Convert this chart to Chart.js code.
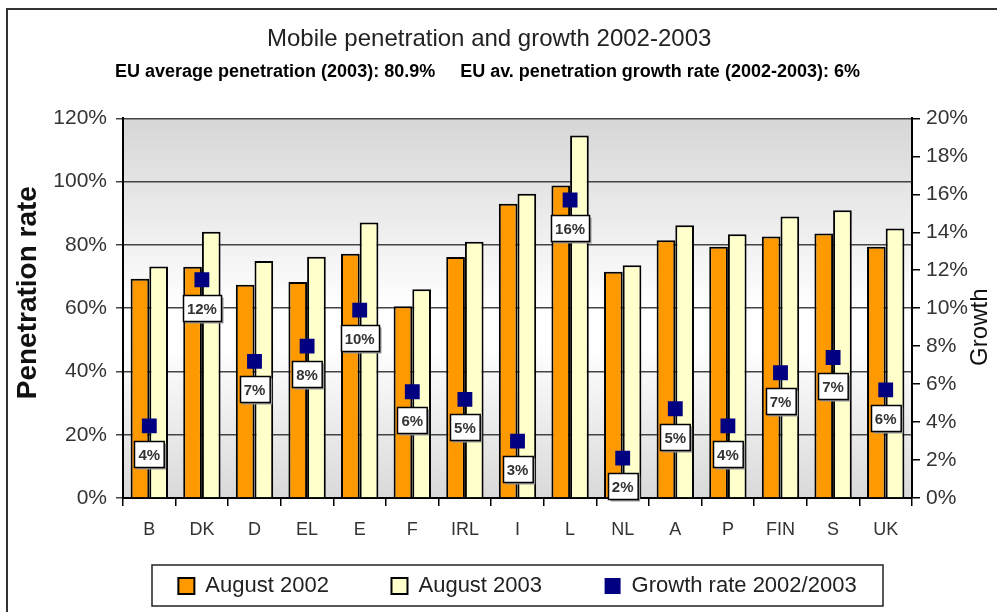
<!DOCTYPE html>
<html>
<head>
<meta charset="utf-8">
<title>Mobile penetration and growth 2002-2003</title>
<script src="https://cdn.jsdelivr.net/npm/chart.js@4.4.0/dist/chart.umd.min.js"></script>
<style>
    html, body { margin: 0; padding: 0; background: #fff; }
    #wrap { width: 997px; height: 612px; position: relative; }
</style>
</head>
<body>
<div id="wrap"><canvas id="penetrationChart" width="997" height="612"></canvas></div>
<script>
// Chart data
const countries = ['B', 'DK', 'D', 'EL', 'E', 'F', 'IRL', 'I', 'L', 'NL', 'A', 'P', 'FIN', 'S', 'UK'];
const august2002 = [69.3, 73.1, 67.4, 68.3, 77.2, 60.6, 76.2, 93.0, 98.8, 71.5, 81.5, 79.4, 82.7, 83.6, 79.4];
const august2003 = [73.2, 84.2, 74.9, 76.3, 87.1, 66.0, 81.0, 96.2, 114.6, 73.6, 86.2, 83.4, 89.0, 91.0, 85.2];
const growthRate = [3.8, 11.5, 7.2, 8.0, 9.9, 5.6, 5.2, 3.0, 15.7, 2.1, 4.7, 3.8, 6.6, 7.4, 5.7];
const growthLabels = ['4%', '12%', '7%', '8%', '10%', '6%', '5%', '3%', '16%', '2%', '5%', '4%', '7%', '7%', '6%'];

const FONT = "'Liberation Sans', Arial, sans-serif";
const LEGEND_PAD = 32;

// Frame + gradient plot background
const backgroundPlugin = {
    id: 'background',
    beforeDraw(chart) {
        const c = chart.ctx;
        const a = chart.chartArea;
        c.save();
        c.fillStyle = '#ffffff';
        c.fillRect(0, 0, chart.width, chart.height);
        const g = c.createLinearGradient(0, a.top, 0, a.bottom);
        g.addColorStop(0, '#d6d6d6');
        g.addColorStop(0.5, '#ffffff');
        g.addColorStop(0.6, '#ffffff');
        g.addColorStop(1, '#d9d9d9');
        c.fillStyle = g;
        c.fillRect(a.left, a.top, a.right - a.left, a.bottom - a.top);
        // outer frame (only left and top edges are visible)
        c.strokeStyle = '#333';
        c.lineWidth = 2;
        c.beginPath();
        c.moveTo(7, chart.height);
        c.lineTo(7, 9);
        c.lineTo(chart.width, 9);
        c.stroke();
        c.restore();
    }
};

// Boxed labels under the growth markers, legend frame and right axis title
const labelPlugin = {
    id: 'growthLabels',
    afterDatasetsDraw(chart) {
        const c = chart.ctx;
        const meta = chart.getDatasetMeta(2);
        c.save();
        c.font = 'bold 15px ' + FONT;
        c.textAlign = 'center';
        c.textBaseline = 'middle';
        meta.data.forEach(function(pt, i) {
            const text = growthLabels[i];
            const w = c.measureText(text).width + 8;
            const h = 26;
            const x = Math.round(pt.x - w / 2) + 0.5;
            const y = Math.round(pt.y + 15) + 0.5;
            c.fillStyle = '#999';
            c.fillRect(x + 2, y + 2, w, h);
            c.fillStyle = '#fff';
            c.fillRect(x, y, w, h);
            c.strokeStyle = '#000';
            c.lineWidth = 1.5;
            c.strokeRect(x, y, w, h);
            c.fillStyle = '#333';
            c.fillText(text, pt.x, y + h / 2 + 1);
        });
        c.restore();
    },
    afterDraw(chart) {
        const c = chart.ctx;
        const a = chart.chartArea;
        const lg = chart.legend;
        const cy = lg.top + LEGEND_PAD + 11;
        c.save();
        c.strokeStyle = '#222';
        c.lineWidth = 1.5;
        c.strokeRect(a.left + 29, cy - 21, a.right - a.left - 58, 41);
        // "Growth" reads bottom to top like the left title
        c.translate(980, (a.top + a.bottom) / 2 + 19);
        c.rotate(-Math.PI / 2);
        c.font = '24px ' + FONT;
        c.fillStyle = '#111';
        c.textAlign = 'center';
        c.textBaseline = 'middle';
        c.fillText('Growth', 0, 0);
        c.restore();
    }
};

const ctx = document.getElementById('penetrationChart').getContext('2d');
const penetrationChart = new Chart(ctx, {
    type: 'bar',
    data: {
        labels: countries,
        datasets: [{
            label: 'August 2002',
            data: august2002,
            backgroundColor: '#ff9900',
            borderColor: '#000',
            borderWidth: 2,
            yAxisID: 'y',
            order: 2
        }, {
            label: 'August 2003',
            data: august2003,
            backgroundColor: '#ffffcc',
            borderColor: '#000',
            borderWidth: 2,
            yAxisID: 'y',
            order: 2
        }, {
            type: 'line',
            label: 'Growth rate 2002/2003',
            data: growthRate,
            showLine: false,
            pointStyle: 'rect',
            pointRadius: 10.5,
            backgroundColor: '#000080',
            borderColor: '#000080',
            borderWidth: 0,
            yAxisID: 'y2',
            order: 1
        }]
    },
    options: {
        responsive: false,
        animation: false,
        categoryPercentage: 0.71,
        barPercentage: 1,
        layout: {
            padding: { left: 8, right: 0, top: 0, bottom: 5 }
        },
        scales: {
            x: {
                afterFit(scale) { scale.height = 45; },
                grid: {
                    offset: true,
                    drawOnChartArea: false,
                    color: '#000',
                    tickLength: 8,
                    lineWidth: 1.5
                },
                border: { color: '#000', width: 2 },
                ticks: {
                    color: '#333',
                    padding: 13,
                    font: { family: FONT, size: 18 }
                }
            },
            y: {
                position: 'left',
                min: 0,
                max: 120,
                afterFit(scale) { scale.width = 115; },
                ticks: {
                    stepSize: 20,
                    padding: 9,
                    color: '#333',
                    font: { family: FONT, size: 21 },
                    callback: function(v) { return v + '%'; }
                },
                grid: {
                    color: '#444',
                    lineWidth: 1.5,
                    tickLength: 7
                },
                border: { color: '#000', width: 2 },
                title: {
                    display: true,
                    text: '    Penetration rate',
                    color: '#111',
                    padding: { top: 3, bottom: 0 },
                    font: { family: FONT, size: 28, weight: 'bold' }
                }
            },
            y2: {
                position: 'right',
                min: 0,
                max: 20,
                afterFit(scale) { scale.width = 85; },
                ticks: {
                    stepSize: 2,
                    padding: 6,
                    color: '#333',
                    font: { family: FONT, size: 21 },
                    callback: function(v) { return v + '%'; }
                },
                grid: {
                    drawOnChartArea: false,
                    color: '#000',
                    lineWidth: 1.5,
                    tickLength: 8
                },
                border: { color: '#000', width: 2 }
            }
        },
        plugins: {
            title: {
                display: true,
                text: 'Mobile penetration and growth 2002-2003    ',
                color: '#222',
                padding: { top: 25, bottom: 4 },
                font: { family: FONT, size: 24, weight: 'normal' }
            },
            subtitle: {
                display: true,
                text: 'EU average penetration (2003): 80.9%     EU av. penetration growth rate (2002-2003): 6%      ',
                color: '#000',
                padding: { top: 3, bottom: 36 },
                font: { family: FONT, size: 18, weight: 'bold' }
            },
            legend: {
                position: 'bottom',
                fullSize: false,
                labels: {
                    color: '#222',
                    boxWidth: 16,
                    boxHeight: 16,
                    padding: LEGEND_PAD,
                    font: { family: FONT, size: 22 },
                    // keep dataset order, widen the gap after the first two items
                    generateLabels: function(chart) {
                        const items = Chart.defaults.plugins.legend.labels.generateLabels(chart);
                        items.sort(function(a, b) { return a.datasetIndex - b.datasetIndex; });
                        items.forEach(function(item, i) {
                            if (i < items.length - 1) item.text += '     ';
                        });
                        return items;
                    }
                }
            },
            tooltip: { enabled: false }
        }
    },
    plugins: [backgroundPlugin, labelPlugin]
});
</script>
</body>
</html>
